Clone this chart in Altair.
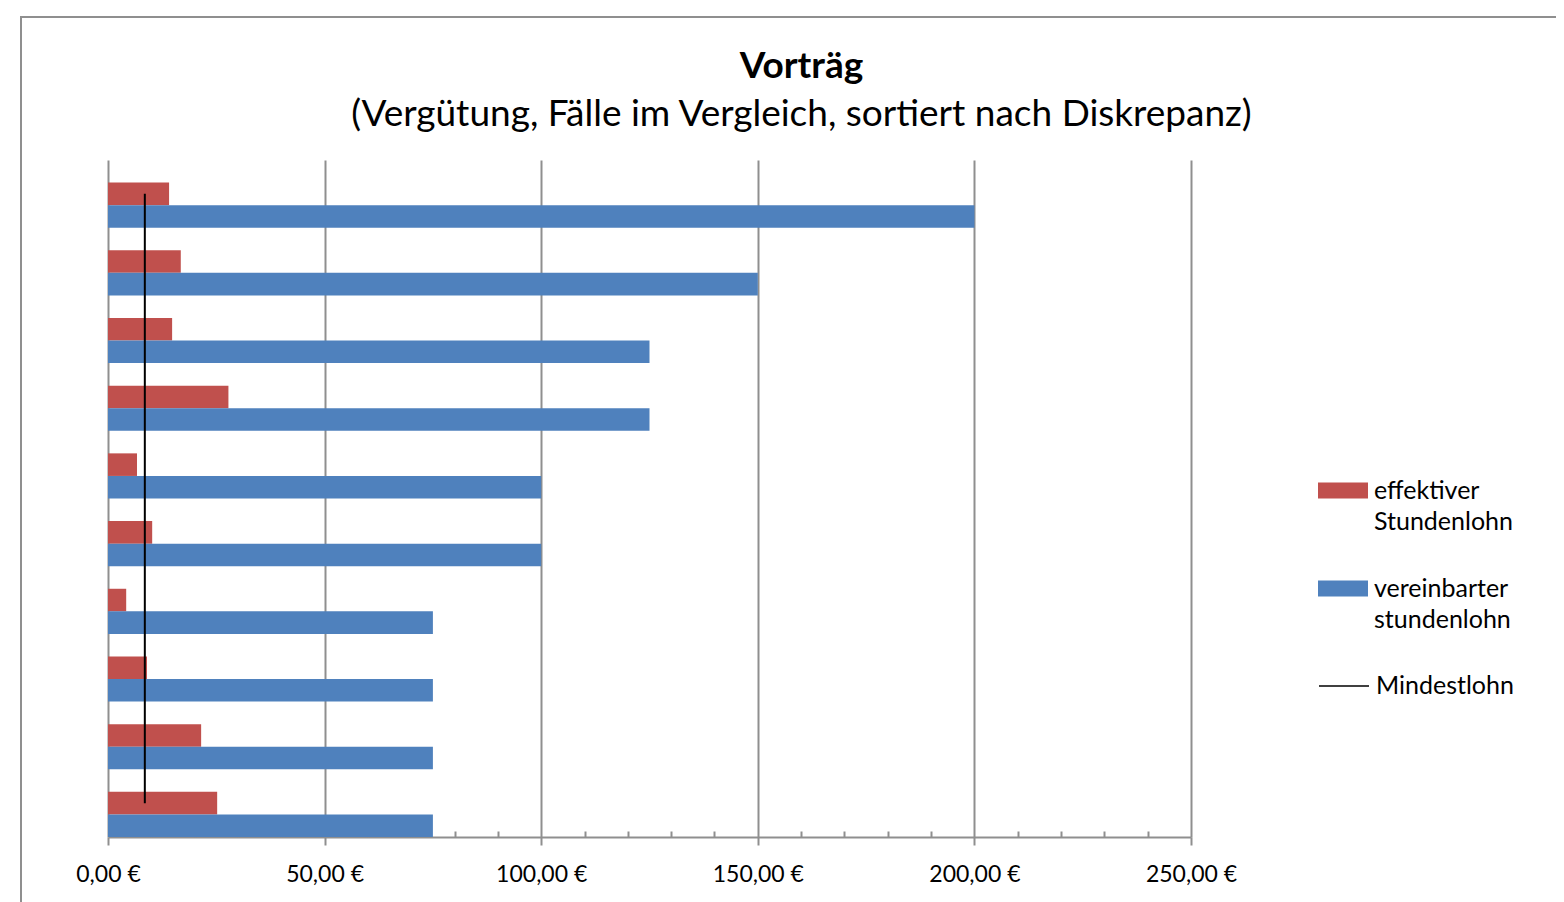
import altair as alt
import pandas as pd

# ---- data ----
faelle = ["Fall 1", "Fall 2", "Fall 3", "Fall 4", "Fall 5",
          "Fall 6", "Fall 7", "Fall 8", "Fall 9", "Fall 10"]
effektiver = [14.1, 16.8, 14.8, 27.8, 6.7, 10.2, 4.2, 9.0, 21.5, 25.2]
vereinbarter = [200, 150, 125, 125, 100, 100, 75, 75, 75, 75]
mindestlohn = 8.50
serien = ["leer", "effektiver Stundenlohn", "vereinbarter stundenlohn"]
x_major = [0, 50, 100, 150, 200, 250]
x_minor = [10, 20, 30, 40, 60, 70, 80, 90, 110, 120, 130, 140, 160, 170, 180, 190,
           210, 220, 230, 240]

rows = []
for f, e, v in zip(faelle, effektiver, vereinbarter):
    rows.append({"fall": f, "serie": serien[1], "wert": e})
    rows.append({"fall": f, "serie": serien[2], "wert": v})
bars_df = pd.DataFrame(rows)
line_df = pd.DataFrame({"fall": faelle, "wert": [mindestlohn] * len(faelle),
                        "linie": ["Mindestlohn"] * len(faelle)})

W, H = 1083, 677
FONT = "Lato"
GRID = "#8f8f8f"
RED = "#C0504D"
BLUE = "#4F81BD"

x_scale = alt.Scale(domain=[0, 250], nice=False, zero=True)
y_enc = alt.Y("fall:N", sort=faelle, axis=None,
              scale=alt.Scale(paddingInner=0, paddingOuter=0))

label_expr = "replace(format(datum.value, '.2f'), '.', ',') + ' €'"

frame = alt.Chart(pd.DataFrame({"k": [0]})).mark_rect(
    fill="transparent", stroke=GRID, strokeWidth=2
).encode(
    x=alt.value(-87), x2=alt.value(1600), y=alt.value(-143), y2=alt.value(1000)
)

bars = alt.Chart(bars_df).mark_bar().encode(
    x=alt.X("wert:Q", scale=x_scale, title=None,
            axis=alt.Axis(values=x_major, grid=True, gridColor=GRID, gridWidth=2,
                          domainColor=GRID, domainWidth=2, tickColor=GRID, tickWidth=2,
                          tickSize=8, labelExpr=label_expr, labelFont=FONT,
                          labelFontSize=23, labelColor="black", labelPadding=18,
                          labelFlush=False, orient="bottom")),
    y=y_enc,
    yOffset=alt.YOffset("serie:N", sort=serien,
                        scale=alt.Scale(domain=serien, paddingInner=0, paddingOuter=0)),
    color=alt.Color("serie:N",
                    scale=alt.Scale(domain=serien[1:], range=[RED, BLUE]),
                    legend=alt.Legend(title=None, orient="none", legendX=1210, legendY=306,
                                      symbolType="M-1,-0.34 L1,-0.34 L1,0.30 L-1,0.30 Z",
                                      symbolSize=2500, symbolStrokeWidth=0,
                                      labelFont=FONT, labelFontSize=25, labelColor="black",
                                      labelExpr="split(datum.label, ' ')", labelLimit=400,
                                      labelOffset=6, rowPadding=29, padding=0)),
)

line = alt.Chart(line_df).mark_line(strokeWidth=2).encode(
    x=alt.X("wert:Q", scale=x_scale, title=None,
            axis=alt.Axis(values=x_minor, orient="top", offset=-H, labels=False,
                          domain=False, grid=False, tickColor=GRID, tickWidth=2,
                          tickSize=6)),
    y=y_enc,
    stroke=alt.Stroke("linie:N", scale=alt.Scale(range=["black"]),
                      legend=alt.Legend(title=None, orient="none", legendX=1210, legendY=500,
                                        symbolType="M-1,0 L1,0", symbolSize=2500,
                                        symbolStrokeWidth=1.5,
                                        labelFont=FONT, labelFontSize=25, labelColor="black",
                                        labelOffset=6, padding=0)),
)

chart = alt.layer(frame, bars, line).resolve_axis(x="independent").resolve_legend(
    color="independent", stroke="independent"
).properties(
    width=W, height=H,
    autosize=alt.AutoSizeParams(type="none"),
    padding={"left": 100, "top": 152, "right": 365, "bottom": 80},
    title=alt.TitleParams(
        text="Vorträg",
        subtitle="(Vergütung, Fälle im Vergleich, sortiert nach Diskrepanz)",
        font=FONT, fontSize=37, fontWeight="bold", color="black",
        subtitleFont=FONT, subtitleFontSize=37, subtitleColor="black",
        subtitlePadding=11, anchor="middle", dx=152, offset=-118,
    ),
).configure(
    view=alt.ViewConfig(stroke=None),
    style={"guide-label": {"lineHeight": 31}},
)

chart.save("out.html", embed_options={"renderer": "svg", "actions": False})
